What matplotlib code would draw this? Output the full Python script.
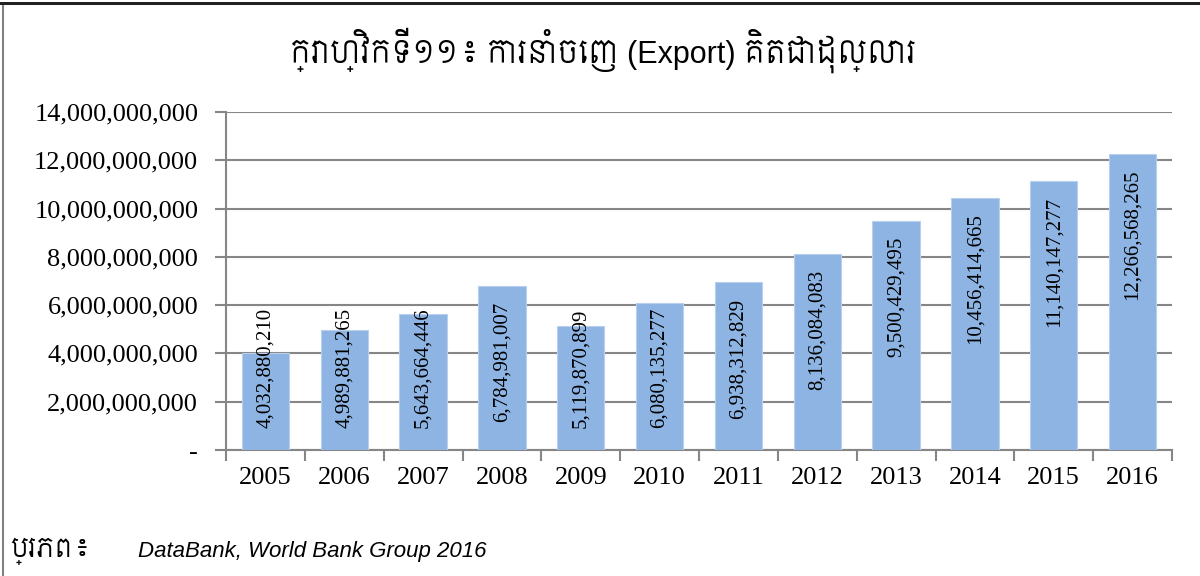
import matplotlib
matplotlib.use("Agg")
import matplotlib.pyplot as plt
from matplotlib.patches import Rectangle
from matplotlib.ticker import FuncFormatter
import matplotlib.transforms as mtransforms

# data
years = ["2005", "2006", "2007", "2008", "2009", "2010",
         "2011", "2012", "2013", "2014", "2015", "2016"]
exports = [4032880210, 4989881265, 5643664446, 6784981007, 5119870899, 6080135277,
           6938312829, 8136084083, 9500429495, 10456414665, 11140147277, 12266568265]
title = "ក្រាហ្វិកទី១១៖ ការនាំចេញ (Export) គិតជាដុល្លារ"
source_km = "ប្រភព៖"
source = "DataBank, World Bank Group 2016"

serif = ["Liberation Serif", "DejaVu Serif"]
sans_km = ["Liberation Sans", "Siemreap", "Noto Sans Khmer", "DejaVu Sans"]

fig = plt.figure(figsize=(12, 5.76), dpi=100)
# chart area border (cut off at right and bottom like the screenshot)
fig.patches.append(Rectangle((3/1200, -0.1), 1.2, (572 + 0.1*576)/576, transform=fig.transFigure,
                             fill=False, edgecolor="#7f7f7f", linewidth=1.5))
fig.patches.append(Rectangle((0, 1 - 5/576), 1, 3/576, transform=fig.transFigure,
                             facecolor="#222222", edgecolor="none"))

ax = fig.add_axes([226/1200, 1 - 450/576, (1172 - 226)/1200, (450 - 112)/576])
x = list(range(len(years)))
ax.bar(x, exports, width=0.6, color="#8EB4E3", edgecolor="#b8d0ee", linewidth=0.8, zorder=3)

ax.set_xlim(-0.5, len(years) - 0.5)
ax.set_ylim(0, 14e9)
ax.set_yticks([i * 2e9 for i in range(8)])
ax.yaxis.set_major_formatter(FuncFormatter(lambda v, p: "-" if v == 0 else f"{v:,.0f}"))
ax.set_xticks(x)
ax.set_xticklabels(years)
ax.set_xticks([i - 0.5 for i in range(len(years) + 1)], minor=True)
ax.tick_params(axis="x", which="major", length=0, pad=12)
ax.tick_params(axis="x", which="minor", length=8, width=1.5, color="#868686")
ax.tick_params(axis="y", length=8, width=1.5, color="#868686", pad=12)
for lab in ax.get_xticklabels() + ax.get_yticklabels():
    lab.set_family(serif)
    lab.set_fontsize(19)
ax.grid(axis="y", color="#868686", linewidth=1.5, zorder=0)
for s in ["top", "right"]:
    ax.spines[s].set_visible(False)
for s in ["left", "bottom"]:
    ax.spines[s].set_color("#868686")
    ax.spines[s].set_linewidth(1.5)

# value labels inside the top of each bar, pushed up if they would run too low
texts = []
for xi, v in zip(x, exports):
    off = mtransforms.offset_copy(ax.transData, fig=fig, x=0, y=-16, units="dots")
    t = ax.text(xi, v, f"{v:,}", rotation=90, ha="center", va="top", transform=off,
                family=serif, fontsize=15, zorder=4)
    texts.append((t, xi))
fig.canvas.draw()
r = fig.canvas.get_renderer()
y0 = ax.transData.transform((0, 0))[1]
for t, xi in texts:
    bb = t.get_window_extent(r)
    if bb.y0 < y0 + 22:
        t.set_transform(mtransforms.offset_copy(ax.transData, fig=fig, x=0, y=22, units="dots"))
        t.set_position((xi, 0))
        t.set_va("bottom")

fig.text(603/1200, 1 - 50/576, title, ha="center", va="center", fontsize=22, family=sans_km)
fig.text(10/1200, 1 - 551/576, source_km, ha="left", va="center", fontsize=19,
         style="italic", family=sans_km)
fig.text(138/1200, 1 - 551/576, source, ha="left", va="center", fontsize=16,
         style="italic", family=sans_km)

fig.savefig("out.png", dpi=100)
